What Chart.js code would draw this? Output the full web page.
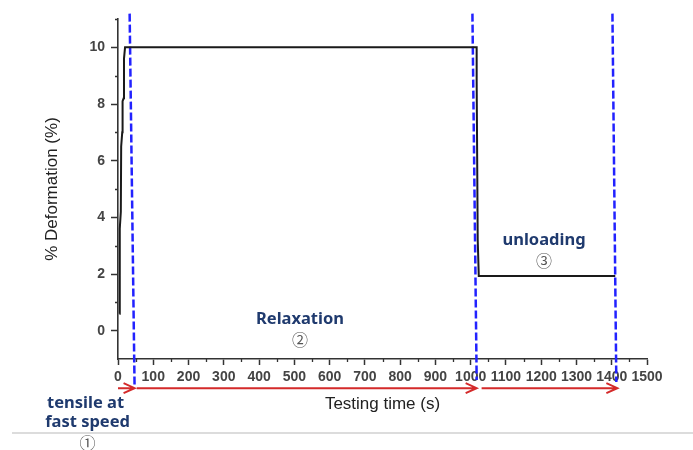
<!DOCTYPE html>
<html>
<head>
<meta charset="utf-8">
<script src="https://cdn.jsdelivr.net/npm/chart.js@4/dist/chart.umd.min.js"></script>
<style>
  body { margin: 0; background: #fff; }
  #wrap { width: 693px; height: 450px; }
</style>
</head>
<body>
<div id="wrap"><canvas id="deformChart" width="693" height="450"></canvas></div>
<script>
// measured curve (time in s, deformation in %)
var timeSec   = [4, 5, 8, 9, 12, 13, 16, 17, 20, 1017, 1017, 1020, 1023, 1410];
var deformPct = [0.6, 3.6, 4.2, 6.5, 7.0, 8.1, 8.2, 9.6, 10, 10, 8.8, 3.2, 1.93, 1.93];

// blue dashed phase boundaries (slightly slanted in the original)
var boundTopTime    = [33, 1005, 1402];
var boundBottomTime = [47, 1017, 1413];
var boundTopVal     = [11.19, 11.19, 11.19];
var boundBottomVal  = [-1.98, -1.74, -1.81];

// red arrows under the x axis
var arrowFrom = [0, 53, 1031];
var arrowTo   = [47, 1017, 1416];
var arrowLevel = -2.03;

// phase labels
var phaseNames = ['Relaxation', 'unloading'];
var phaseNums  = ['\u2461', '\u2462'];
var phaseTime  = [516, 1208];
var phaseVal   = [0.41, 3.19];

var yTickLabels = [0, 2, 4, 6, 8, 10];
var xTickStep = 100;

var curve = timeSec.map(function(t, i) { return {x: t, y: deformPct[i]}; });

var datasets = [{
  label: 'deformation',
  data: curve,
  borderColor: '#1a1a1a',
  borderWidth: 2,
  pointRadius: 0,
  fill: false,
  tension: 0
}];

boundTopTime.forEach(function(t, i) {
  datasets.push({
    label: 'boundary' + i,
    data: [{x: t, y: boundTopVal[i]}, {x: boundBottomTime[i], y: boundBottomVal[i]}],
    borderColor: '#2222ff',
    borderWidth: 2.5,
    borderDash: [8, 3],
    pointRadius: 0,
    clip: false
  });
});

var extras = {
  id: 'extras',
  afterDraw: function(chart) {
    var ctx = chart.ctx;
    var xs = chart.scales.x, ys = chart.scales.y;
    var area = chart.chartArea;
    ctx.save();

    // minor ticks
    ctx.strokeStyle = '#333';
    ctx.lineWidth = 1.3;
    ctx.beginPath();
    for (var v = 1; v <= 11; v += 2) {
      var py = Math.round(ys.getPixelForValue(v)) + 0.5;
      ctx.moveTo(area.left, py);
      ctx.lineTo(area.left - 3, py);
    }
    for (var t = 50; t < 1500; t += 100) {
      var px = Math.round(xs.getPixelForValue(t)) + 0.5;
      ctx.moveTo(px, area.bottom);
      ctx.lineTo(px, area.bottom + 3);
    }
    ctx.stroke();

    // red arrows
    ctx.strokeStyle = '#d42a2a';
    ctx.lineWidth = 2;
    var ay = ys.getPixelForValue(arrowLevel);
    arrowFrom.forEach(function(f, i) {
      var x0 = xs.getPixelForValue(f), x1 = xs.getPixelForValue(arrowTo[i]);
      ctx.beginPath();
      ctx.moveTo(x0, ay);
      ctx.lineTo(x1, ay);
      ctx.moveTo(x1 - 11, ay - 5);
      ctx.lineTo(x1, ay);
      ctx.lineTo(x1 - 11, ay + 5);
      ctx.stroke();
    });

    // light separator line
    ctx.strokeStyle = '#dcdcdc';
    ctx.lineWidth = 2;
    ctx.beginPath();
    ctx.moveTo(12, 433);
    ctx.lineTo(693, 433);
    ctx.stroke();

    // phase labels
    ctx.textAlign = 'center';
    ctx.textBaseline = 'middle';
    phaseNames.forEach(function(n, i) {
      var px = xs.getPixelForValue(phaseTime[i]);
      var py = ys.getPixelForValue(phaseVal[i]);
      ctx.fillStyle = '#1f3a6e';
      ctx.font = 'bold 16.5px "Noto Sans"';
      ctx.fillText(n, px, py);
      ctx.fillStyle = '#555';
      ctx.font = '16px "Noto Sans CJK KR"';
      ctx.fillText(phaseNums[i], px, py + 21);
    });
    var lx = xs.getPixelForValue(-92);
    ctx.fillStyle = '#1f3a6e';
    ctx.font = 'bold 16.5px "Noto Sans"';
    ctx.fillText('tensile at', lx, ys.getPixelForValue(-2.55));
    ctx.fillText('fast speed', lx + 2, ys.getPixelForValue(-3.25));
    ctx.fillStyle = '#555';
    ctx.font = '16px "Noto Sans CJK KR"';
    ctx.fillText('\u2460', lx + 2, ys.getPixelForValue(-3.96));
    ctx.restore();
  }
};

var ctx = document.getElementById('deformChart').getContext('2d');
new Chart(ctx, {
  type: 'line',
  data: {datasets: datasets},
  options: {
    responsive: false,
    animation: false,
    layout: {padding: {top: 19, right: 46, bottom: 0, left: 0}},
    plugins: {legend: {display: false}, tooltip: {enabled: false}},
    scales: {
      x: {
        type: 'linear',
        min: 0,
        max: 1500,
        afterFit: function(s) { s.height = 91; },
        border: {display: true, color: '#333', width: 1.6},
        grid: {display: true, drawOnChartArea: false, tickLength: 6, color: '#333', tickWidth: 1.5},
        ticks: {
          stepSize: xTickStep,
          autoSkip: false,
          maxRotation: 0,
          padding: 4,
          color: '#444',
          font: {family: '"Liberation Sans", Arial', size: 14, weight: 'bold'},
          callback: function(v) { return String(v); }
        },
        title: {
          display: true,
          text: 'Testing time (s)',
          color: '#222',
          font: {family: '"Liberation Sans", Arial', size: 17, lineHeight: 1},
          padding: {top: 0, bottom: 37}
        }
      },
      y: {
        type: 'linear',
        min: -1,
        max: 11,
        afterFit: function(s) { s.width = 118; },
        border: {display: true, color: '#333', width: 1.6},
        grid: {
          display: true,
          drawOnChartArea: false,
          tickLength: 7,
          tickWidth: 1.5,
          color: function(c) {
            return (c.tick && yTickLabels.indexOf(c.tick.value) >= 0) ? '#333' : 'rgba(0,0,0,0)';
          }
        },
        ticks: {
          stepSize: 1,
          padding: 6,
          color: '#444',
          font: {family: '"Liberation Sans", Arial', size: 14, weight: 'bold'},
          callback: function(v) { return yTickLabels.indexOf(v) >= 0 ? String(v) : ''; }
        },
        title: {
          display: true,
          text: '% Deformation (%)',
          color: '#222',
          font: {family: '"Liberation Sans", Arial', size: 17, lineHeight: 1},
          padding: {top: 44, bottom: 0}
        }
      }
    }
  },
  plugins: [extras]
});
</script>
</body>
</html>
